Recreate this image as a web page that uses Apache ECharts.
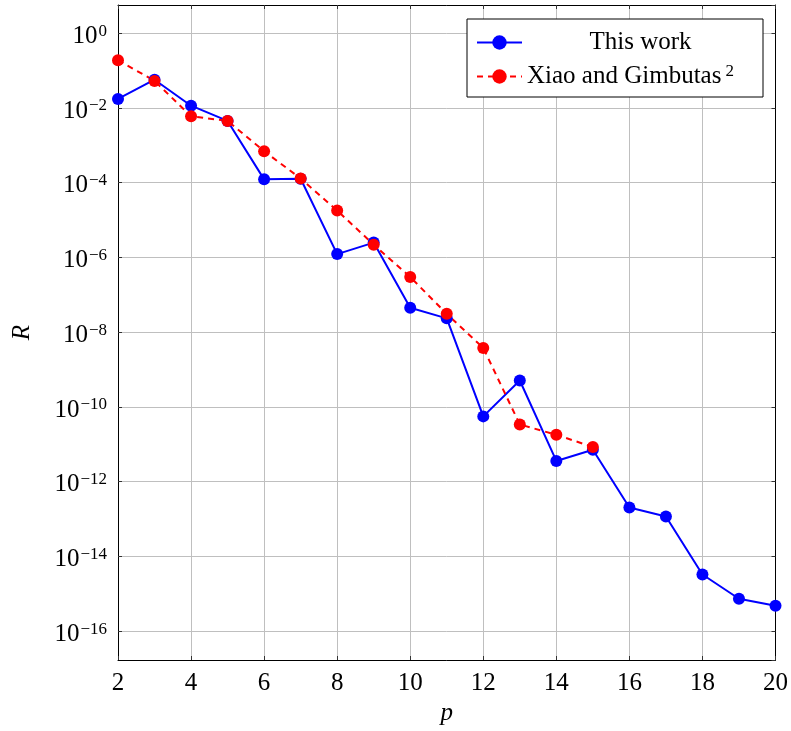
<!DOCTYPE html>
<html>
<head>
<meta charset="utf-8">
<script src="https://cdn.jsdelivr.net/npm/echarts@6/dist/echarts.min.js"></script>
<style>
	html, body { margin: 0; padding: 0; background: #fff; }
	#chart { width: 791px; height: 731px; }
</style>
</head>
<body>
<div id="chart"></div>
<script>
// 数据
var pWork = [2, 3, 4, 5, 6, 7, 8, 9, 10, 11, 12, 13, 14, 15, 16, 17, 18, 19, 20];
var rWork = [1.74e-2, 5.7e-2, 1.15e-2, 4.5e-3, 1.23e-4, 1.28e-4, 1.23e-6, 2.5e-6, 4.5e-8, 2.35e-8,
	5.6e-11, 5.1e-10, 3.6e-12, 7.2e-12, 2.05e-13, 1.17e-13, 3.3e-15, 7.4e-16, 4.8e-16];
var pXiao = [2, 3, 4, 5, 6, 7, 8, 9, 10, 11, 12, 13, 14, 15];
var rXiao = [0.19, 5.3e-2, 6e-3, 4.5e-3, 7e-4, 1.3e-4, 1.8e-5, 2.2e-6, 3e-7, 3.1e-8,
	3.8e-9, 3.4e-11, 1.8e-11, 8.5e-12];
var seriesNames = ['This work', 'Xiao and Gimbutas'];

var FONT = '"Liberation Serif", "DejaVu Serif", serif';
var yMin = Math.pow(10, -16.77);
var yMax = Math.pow(10, 0.755);

function pairs(xs, ys) {
	var out = [];
	for (var i = 0; i < xs.length; i++) {
		out.push([xs[i], ys[i]]);
	}
	return out;
}

// 10^n 标签
function expLabel(v) {
	var e = Math.round(Math.log10(v));
	return '{b|10}{s|' + (e < 0 ? '\u2212' + (-e) : e) + '}';
}

var tickStyle = { show: true, inside: true, length: 4, lineStyle: { color: '#333', width: 1 } };
var lineStyle = { show: true, lineStyle: { color: '#000', width: 1 } };

var chart = echarts.init(document.getElementById('chart'));

var option = {
	animation: false,
	backgroundColor: '#fff',
	grid: { left: 118, right: 15, top: 5, bottom: 68 },
	legend: {
		orient: 'vertical',
		left: 467,
		top: 19,
		padding: [11, 9, 8, 9],
		itemGap: 8,
		itemWidth: 45,
		itemHeight: 18,
		backgroundColor: '#fff',
		borderColor: '#000',
		borderWidth: 1,
		borderRadius: 0,
		data: seriesNames,
		formatter: function(name) {
			if (name == seriesNames[0]) {
				return '{c|' + name + '}';
			}
			return '{t|' + name + '}{s|2}';
		},
		textStyle: {
			fontFamily: FONT,
			fontSize: 25,
			color: '#000',
			rich: {
				c: { fontFamily: FONT, fontSize: 25, width: 227, align: 'center', lineHeight: 30 },
				t: { fontFamily: FONT, fontSize: 25, lineHeight: 30 },
				s: { fontFamily: FONT, fontSize: 17, padding: [0, 0, 10, 4] }
			}
		}
	},
	xAxis: [{
		type: 'value',
		min: 2,
		max: 20,
		interval: 2,
		name: 'p',
		nameLocation: 'middle',
		nameGap: 41,
		nameTextStyle: { fontFamily: FONT, fontSize: 25, fontStyle: 'italic', color: '#000' },
		axisLine: lineStyle,
		axisTick: tickStyle,
		axisLabel: { fontFamily: FONT, fontSize: 25, color: '#000', margin: 11 },
		splitLine: { show: true, lineStyle: { color: '#bfbfbf', width: 1 } }
	}, {
		type: 'value',
		position: 'top',
		min: 2,
		max: 20,
		interval: 2,
		axisLine: lineStyle,
		axisTick: tickStyle,
		axisLabel: { show: false },
		splitLine: { show: false }
	}],
	yAxis: [{
		type: 'log',
		logBase: 100,
		min: yMin,
		max: yMax,
		name: 'R',
		nameLocation: 'middle',
		nameGap: 83,
		nameRotate: 90,
		nameTextStyle: { fontFamily: FONT, fontSize: 25, fontStyle: 'italic', color: '#000' },
		axisLine: lineStyle,
		axisTick: tickStyle,
		axisLabel: {
			color: '#000',
			margin: 11,
			padding: [6, 0, 0, 0],
			showMinLabel: false,
			showMaxLabel: false,
			formatter: expLabel,
			rich: {
				b: { fontFamily: FONT, fontSize: 25, color: '#000' },
				s: { fontFamily: FONT, fontSize: 17, color: '#000', padding: [0, 0, 10, 1] }
			}
		},
		splitLine: { show: true, lineStyle: { color: '#bfbfbf', width: 1 } }
	}, {
		type: 'log',
		logBase: 100,
		position: 'right',
		min: yMin,
		max: yMax,
		axisLine: lineStyle,
		axisTick: tickStyle,
		axisLabel: { show: false },
		splitLine: { show: false }
	}],
	series: [{
		name: seriesNames[0],
		type: 'line',
		data: pairs(pWork, rWork),
		symbol: 'circle',
		symbolSize: 12,
		itemStyle: { color: '#0000ff' },
		lineStyle: { color: '#0000ff', width: 2 }
	}, {
		name: seriesNames[1],
		type: 'line',
		data: pairs(pXiao, rXiao),
		symbol: 'circle',
		symbolSize: 12,
		itemStyle: { color: '#ff0000' },
		lineStyle: { color: '#ff0000', width: 2, type: [6, 5] }
	}]
};

chart.setOption(option);
</script>
</body>
</html>
